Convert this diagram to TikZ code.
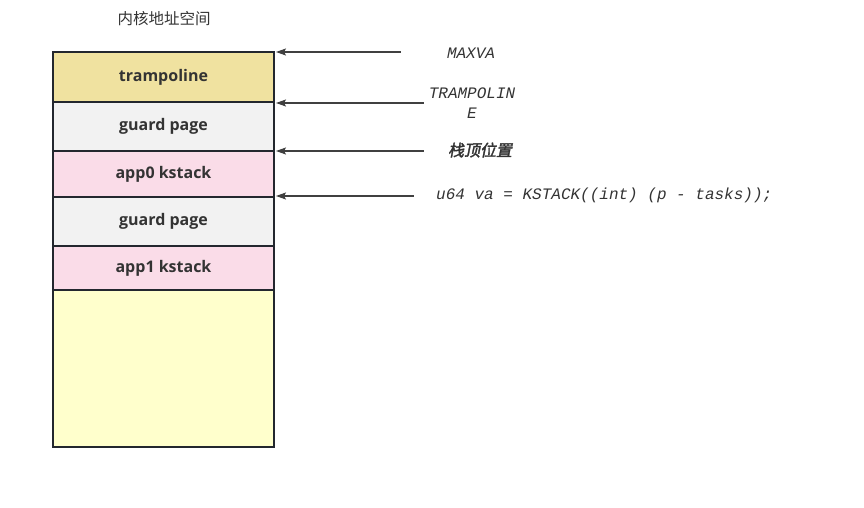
\documentclass[tikz,border=0pt]{standalone}
\usepackage{fontspec}
\usepackage{xcolor}
\setsansfont{Open Sans}
\setmonofont{Liberation Mono}
\newfontfamily\cjk{Noto Sans CJK SC}
\newfontfamily\cjkemph[FakeSlant=0.2,FakeBold=2]{Noto Sans CJK SC}
\usetikzlibrary{arrows.meta, positioning}
\definecolor{boxline}{HTML}{23272E}
\definecolor{ptrline}{HTML}{404040}
\definecolor{labeltext}{HTML}{333333}
\definecolor{trampfill}{HTML}{F0E2A0}
\definecolor{guardfill}{HTML}{F2F2F2}
\definecolor{stackfill}{HTML}{FADCE8}
\definecolor{freefill}{HTML}{FFFFCC}
\tikzset{
	x=1pt, y=-1pt,
	node distance = 0pt,
	>={Stealth[length=10pt, width=7pt, inset=2pt]},
	seg/.style={
		draw=boxline,
		line width=1.6pt,
		minimum width=221pt,
		inner sep=0pt,
		outer sep=0pt,
		text=labeltext,
		font=\sffamily\bfseries\fontsize{16}{18}\selectfont
	},
	ptr/.style={
		<-,
		draw=ptrline,
		line width=1.4pt,
		shorten <=2pt
	},
	addr/.style={
		text=labeltext,
		align=center,
		inner sep=0pt,
		font=\ttfamily\itshape\fontsize{16}{20}\selectfont
	}
}
\begin{document}
\begin{tikzpicture}
	\useasboundingbox (0,0) rectangle (864,508);

	\node[text=labeltext, font=\cjk\fontsize{15.5}{18}\selectfont] at (164,19) (title) {内核地址空间};

	% address space, top to bottom
	\node[seg, fill=trampfill, minimum height=50pt, anchor=north] at (163.5,52) (tramp) {trampoline};
	\node[seg, fill=guardfill, minimum height=49pt, below=of tramp] (guard0) {guard page};
	\node[seg, fill=stackfill, minimum height=46pt, below=of guard0] (app0) {app0 kstack};
	\node[seg, fill=guardfill, minimum height=49pt, below=of app0] (guard1) {guard page};
	\node[seg, fill=stackfill, minimum height=44pt, below=of guard1] (app1) {app1 kstack};
	\node[seg, fill=freefill, minimum height=157pt, below=of app1] (free) {};

	% pointers
	\node[addr] at (471,53) (maxva) {MAXVA};
	\node[addr] at (472,103) (trampva) {TRAMPOLIN\\E};
	\node[text=labeltext, font=\cjkemph\fontsize{16}{18}\selectfont] at (480,150) (sptop) {栈顶位置};
	\node[addr, anchor=west] at (436,195) (kva) {u64 va = KSTACK((int) (p - tasks));};

	\coordinate (maxva-tail) at (401,52);
	\coordinate (trampva-tail) at (424,103);
	\coordinate (sptop-tail) at (424,151);
	\coordinate (kva-tail) at (414,196);

	\draw[ptr] (maxva-tail -| tramp.east) -- (maxva-tail);
	\draw[ptr] (trampva-tail -| tramp.east) -- (trampva-tail);
	\draw[ptr] (sptop-tail -| guard0.east) -- (sptop-tail);
	\draw[ptr] (kva-tail -| app0.east) -- (kva-tail);
\end{tikzpicture}
\end{document}
